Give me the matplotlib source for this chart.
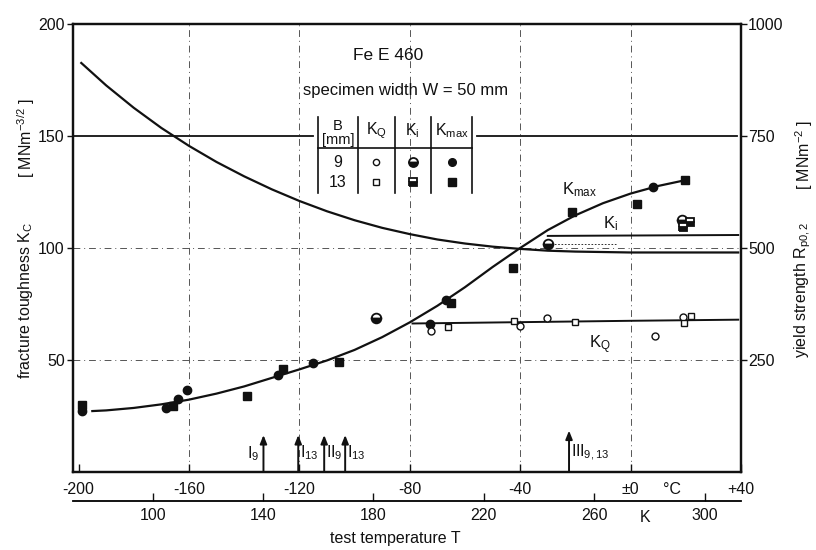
import matplotlib
matplotlib.use('Agg')
import matplotlib.pyplot as plt

FONT = ['Liberation Sans', 'DejaVu Sans']
plt.rcParams['font.family'] = FONT
plt.rcParams['mathtext.fontset'] = 'custom'
plt.rcParams['mathtext.rm'] = 'Liberation Sans'
plt.rcParams['mathtext.it'] = 'Liberation Sans'
plt.rcParams['mathtext.default'] = 'rm'
INK = '#111111'
FS = 11.5

# yield strength curve (deg C, MNm^-2)
ys_T = [-199, -190, -180, -170, -160, -150, -140, -130, -120, -110, -100, -90, -80,
        -70, -60, -50, -40, -30, -20, -10, 0, 39]
ys_R = [913, 863, 813, 768, 728, 692, 660, 631, 605, 582, 562, 545, 531,
        519, 510, 503, 498, 494, 492, 491, 490, 490]

# K_max fitted curve (deg C, MNm^-3/2)
kmax_T = [-195, -190, -180, -170, -160, -150, -140, -130, -120, -110, -100, -90, -80,
          -70, -60, -50, -40, -30, -20, -10, 0, 10, 18]
kmax_K = [27.2, 27.5, 28.6, 30.2, 32.3, 35.0, 38.2, 42.0, 45.8, 49.8, 54.5, 60.2, 66.8,
          74.2, 82.5, 91.5, 100.0, 108.0, 114.6, 120.0, 124.3, 127.7, 129.8]

# K_i and K_Q levels
ki_T = [-30, 39]
ki_K = [105.4, 105.8]
kq_T = [-79, 0, 39]
kq_K = [66.3, 67.5, 68.0]

# measured points
kmax9_T = [-198.6, -168.3, -163.9, -160.7, -127.9, -115, -72.8, -67, 8.3]
kmax9_K = [27.3, 28.6, 32.6, 36.6, 43.3, 48.7, 66, 76.8, 127.2]
kmax13_T = [-198.6, -165.8, -139, -125.8, -105.6, -65.2, -42.5, -21.3, 2.2, 19.8]
kmax13_K = [30, 29.5, 33.9, 46, 49.1, 75.4, 91, 116, 119.6, 130.4]
ki9_T = [-92.3, -29.9, 18.7]
ki9_K = [68.8, 102, 112.5]
ki13_T = [19, 21.6]
ki13_K = [109.4, 111.6]
kq9_T = [-72.4, -40, -30.3, 9, 19]
kq9_K = [63, 65.2, 68.8, 60.7, 69.2]
kq13_T = [-66, -42.2, -20.2, 19.5, 22]
kq13_K = [64.7, 67.4, 67, 66.5, 69.6]

# fracture-mode arrows
arrow_T = [-133, -120.4, -111, -103.4, -22.3]
arrow_lab = ['I$_9$', 'I$_{13}$', 'II$_9$', 'I$_{13}$', 'III$_{9,13}$']

c_ticks = [-200, -160, -120, -80, -40, 0, 40]
c_labels = ['-200', '-160', '-120', '-80', '-40', '±0', '+40']
k_ticks = [100, 140, 180, 220, 260, 300]

fig = plt.figure(figsize=(8.16, 5.5), dpi=100)
ax = fig.add_axes([73 / 816, 78 / 550, 668 / 816, 448 / 550])
ax2 = ax.twinx()

ax.set_xlim(-202, 38.6)
ax.set_ylim(0, 200)
ax2.set_ylim(0, 1000)

for a in (ax, ax2):
    for s in a.spines.values():
        s.set_linewidth(1.6)
        s.set_color(INK)

ax.set_xticks(c_ticks)
ax.set_xticklabels(c_labels)
ax.set_yticks([50, 100, 150, 200])
ax.set_yticklabels(['50', '100', '150', '200'])
ax2.set_yticks([250, 500, 750, 1000])
ax.tick_params(axis='x', direction='in', length=6, width=1, pad=7, labelsize=FS, colors=INK)
ax.tick_params(axis='y', direction='out', length=4, width=1, pad=2, labelsize=FS, colors=INK)
ax2.tick_params(axis='y', direction='out', length=4, width=1, pad=1, labelsize=FS, colors=INK)

# grid
grid_kw = dict(color='#555555', lw=0.7, ls=(0, (7, 4, 1, 4)), zorder=1)
for t in [-160, -120, -80, -40, 0]:
    ax.axvline(t, **grid_kw)
for v in [50, 100]:
    ax.axhline(v, **grid_kw)
ax.plot([-202, -115], [150, 150], color=INK, lw=1.3, zorder=1)
ax.plot([-55.5, 38.6], [150, 150], color=INK, lw=1.3, zorder=1)

# curves
ax2.plot(ys_T, ys_R, color=INK, lw=1.6)
ax.plot(kmax_T, kmax_K, color=INK, lw=1.6)
ax.plot(ki_T, ki_K, color=INK, lw=1.4)
ax.plot([-29, -5], [102, 102], color=INK, lw=0.6, ls=(0, (2, 2)))
ax.plot(kq_T, kq_K, color=INK, lw=1.4)

# points
ax.plot(kmax9_T, kmax9_K, 'o', ms=6, color=INK, ls='none', zorder=4)
ax.plot(kmax13_T, kmax13_K, 's', ms=6, color=INK, ls='none', zorder=4)
ax.plot(ki9_T, ki9_K, 'o', ms=7, mfc=INK, mfcalt='white', fillstyle='bottom', mec=INK, mew=1.3, ls='none', zorder=4)
ax.plot(ki13_T, ki13_K, 's', ms=6, mfc=INK, mfcalt='white', fillstyle='bottom', mec=INK, mew=1.3, ls='none', zorder=4)
ax.plot(kq9_T, kq9_K, 'o', ms=5, mfc='white', mec=INK, mew=1, ls='none', zorder=4)
ax.plot(kq13_T, kq13_K, 's', ms=5, mfc='white', mec=INK, mew=1, ls='none', zorder=4)

# arrows at the bottom
for i, (t, lab) in enumerate(zip(arrow_T, arrow_lab)):
    top = 18.5 if i == 4 else 16.5
    ax.annotate('', xy=(t, top), xytext=(t, 0),
                arrowprops=dict(arrowstyle='-|>,head_length=0.5,head_width=0.2',
                                color=INK, lw=1.4, shrinkA=0, shrinkB=0))
    if i == 0:
        ax.text(t - 1.5, 8, lab, ha='right', va='center', fontsize=FS, color=INK)
    else:
        ax.text(t + 0.8, 8.5, lab, ha='left', va='center', fontsize=FS, color=INK)

# curve labels
ax.text(-25, 126, 'K$_{max}$', fontsize=12, color=INK, va='center')
ax.text(-10, 111, 'K$_i$', fontsize=12, color=INK, va='center')
ax.text(-15, 57, 'K$_Q$', fontsize=12, color=INK, va='center')

# heading
ax.text(-88, 186, 'Fe E 460', ha='center', va='center', fontsize=12.5, color=INK)
ax.text(-81.5, 170.5, 'specimen width W = 50 mm', ha='center', va='center', fontsize=12, color=INK)

# legend table
col_x = [-113.2, -98.7, -85.4, -72.4, -57.3]
for cx in col_x:
    ax.plot([cx, cx], [158.5, 124.6], color=INK, lw=1.2)
ax.plot([col_x[0], col_x[-1]], [144.6, 144.6], color=INK, lw=1.2)
ax.text(-106, 154.3, 'B', ha='center', va='center', fontsize=10.5, color=INK)
ax.text(-106, 148.2, '[mm]', ha='center', va='center', fontsize=10.5, color=INK)
ax.text(-92.1, 152.5, 'K$_Q$', ha='center', va='center', fontsize=11.5, color=INK)
ax.text(-78.9, 152.5, 'K$_i$', ha='center', va='center', fontsize=11.5, color=INK)
ax.text(-64.8, 152.5, 'K$_{max}$', ha='center', va='center', fontsize=11.5, color=INK)
ax.text(-106, 138.3, '9', ha='center', va='center', fontsize=FS, color=INK)
ax.text(-106, 129.3, '13', ha='center', va='center', fontsize=FS, color=INK)
ax.plot([-92.1], [138.3], 'o', ms=4.5, mfc='white', mec=INK, mew=1)
ax.plot([-92.1], [129.3], 's', ms=5, mfc='white', mec=INK, mew=1)
ax.plot([-78.9], [138.3], 'o', ms=6.5, mfc=INK, mfcalt='white', fillstyle='bottom', mec=INK, mew=1.3)
ax.plot([-78.9], [129.3], 's', ms=5.5, mfc=INK, mfcalt='white', fillstyle='bottom', mec=INK, mew=1.3)
ax.plot([-64.8], [138.3], 'o', ms=5.5, color=INK)
ax.plot([-64.8], [129.3], 's', ms=6, color=INK)

# Kelvin axis
sec = ax.secondary_xaxis(-0.065, functions=(lambda c: c + 273.15, lambda k: k - 273.15))
sec.set_xticks(k_ticks)
sec.set_xticklabels([str(k) for k in k_ticks])
sec.tick_params(direction='in', length=6, width=1, pad=5, labelsize=FS, colors=INK)
sec.spines['bottom'].set_linewidth(1.3)

fig.text(645 / 816, 1 - 517 / 550, 'K', ha='center', va='center', fontsize=FS, color=INK)
fig.text(672 / 816, 1 - 489 / 550, '°C', ha='center', va='center', fontsize=FS, color=INK)
fig.text(395 / 816, 1 - 538 / 550, 'test temperature T', ha='center', va='center', fontsize=FS, color=INK)

fig.text(26 / 816, 1 - 300 / 550, 'fracture toughness K$_C$', rotation=90, ha='center', va='center', fontsize=FS, color=INK)
fig.text(26 / 816, 1 - 138 / 550, '[ MNm$^{-3/2}$ ]', rotation=90, ha='center', va='center', fontsize=FS, color=INK)
fig.text(803 / 816, 1 - 290 / 550, 'yield strength R$_{p0,2}$', rotation=90, ha='center', va='center', fontsize=FS, color=INK)
fig.text(804 / 816, 1 - 155 / 550, '[ MNm$^{-2}$ ]', rotation=90, ha='center', va='center', fontsize=FS, color=INK)

fig.savefig('out.png', dpi=100, facecolor='white')
